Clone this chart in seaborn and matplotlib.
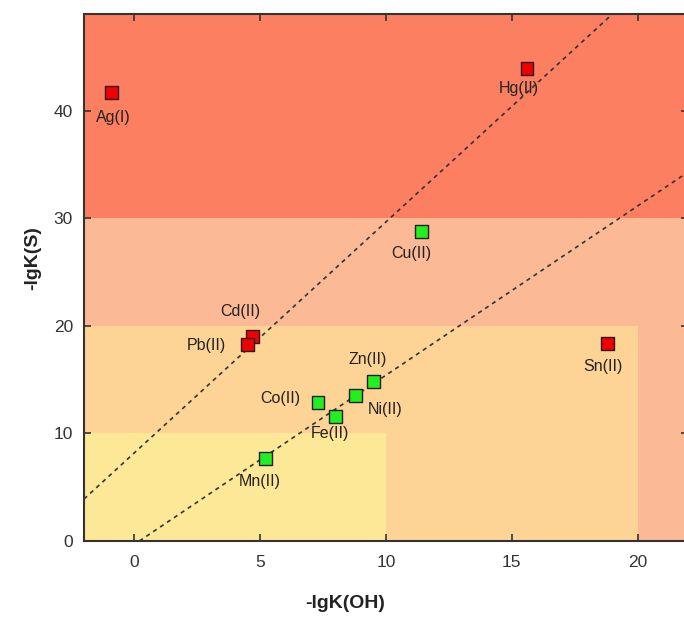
import matplotlib
matplotlib.use("Agg")
import matplotlib.pyplot as plt
from matplotlib.patches import Rectangle
import pandas as pd
import seaborn as sns

ions = ["Ag(I)", "Hg(II)", "Cu(II)", "Cd(II)", "Pb(II)", "Sn(II)",
        "Zn(II)", "Ni(II)", "Co(II)", "Fe(II)", "Mn(II)"]
lgk_oh = [-0.9, 15.6, 11.4, 4.7, 4.5, 18.8, 9.5, 8.8, 7.3, 8.0, 5.2]
lgk_s = [41.7, 43.9, 28.8, 19.0, 18.3, 18.4, 14.8, 13.5, 12.9, 11.6, 7.7]
group = ["rot", "rot", "gruen", "rot", "rot", "rot",
         "gruen", "gruen", "gruen", "gruen", "gruen"]

# Beschriftungs-Versatz in Pixel (dx, dy)
label_dx = [2, -8, -10, -12, -41, -5, -6, 29, -38, -6, -5]
label_dy = [-25, -20, -22, 25, -1, -23, 22, -14, 4, -17, -23]

# Trennlinien (gestrichelt)
line1_x = [-2.0, 19.0]
line1_y = [3.9, 49.0]
line2_x = [0.2, 22.0]
line2_y = [0.0, 34.3]

# Zonen: (x_max, y_min, y_max, Farbe)
zone_xmax = [22, 22, 20, 10]
zone_ymin = [30, 0, 0, 0]
zone_ymax = [49, 30, 20, 10]
zone_col = ["#fc7f61", "#fcb996", "#fdd495", "#fde897"]

df = pd.DataFrame({"ion": ions, "oh": lgk_oh, "s": lgk_s, "grp": group})

sns.set_style("ticks")
plt.rcParams["font.family"] = ["Liberation Sans", "DejaVu Sans"]

fig = plt.figure(figsize=(6.84, 6.19), dpi=100)
ax = fig.add_axes([84 / 684, 78 / 619, 604 / 684, 527 / 619])

for xm, y0, y1, c in zip(zone_xmax, zone_ymin, zone_ymax, zone_col):
    ax.add_patch(Rectangle((-2, y0), xm + 2, y1 - y0, facecolor=c,
                           edgecolor="none", zorder=0))

ax.plot(line1_x, line1_y, color="#333333", lw=1.2, dashes=(2.5, 2.5), zorder=2)
ax.plot(line2_x, line2_y, color="#333333", lw=1.2, dashes=(2.5, 2.5), zorder=2)

sns.scatterplot(data=df, x="oh", y="s", hue="grp", marker="s", s=85,
                palette={"rot": "#f00000", "gruen": "#22ee22"},
                edgecolor="#2a1a1a", linewidth=1.0, legend=False, ax=ax, zorder=3)

for name, x, y, dx, dy in zip(ions, lgk_oh, lgk_s, label_dx, label_dy):
    ax.annotate(name, (x, y), xytext=(dx, dy), textcoords="offset pixels",
                ha="center", va="center", fontsize=11.5, color="#222222", zorder=4)

ax.set_xlim(-2, 22)
ax.set_ylim(0, 49)
ax.set_xticks([0, 5, 10, 15, 20])
ax.set_yticks([0, 10, 20, 30, 40])
ax.tick_params(direction="in", length=5, width=1.2, colors="#333333",
               top=True, right=True, labelsize=12.5)
ax.tick_params(axis="x", pad=10)
ax.tick_params(axis="y", pad=8)
for sp in ax.spines.values():
    sp.set_color("#333333")
    sp.set_linewidth(1.5)

ax.set_xlabel("-lgK(OH)", fontsize=14, fontweight="bold", color="#222222")
ax.set_ylabel("-lgK(S)", fontsize=14, fontweight="bold", color="#222222")
ax.xaxis.set_label_coords(0.432, -0.103)
ax.yaxis.set_label_coords(-0.071, 0.537)

fig.savefig("out.png", dpi=100)
